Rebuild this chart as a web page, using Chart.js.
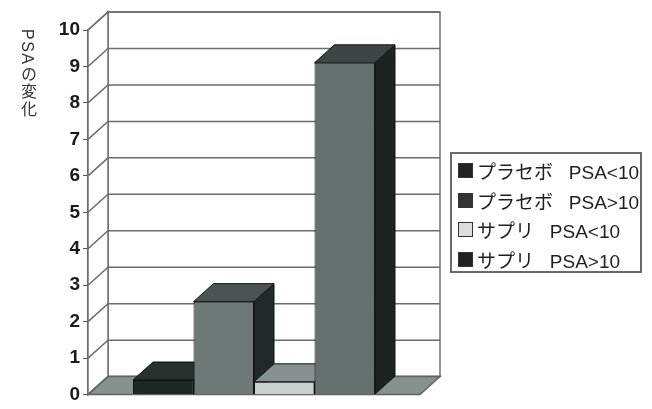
<!DOCTYPE html>
<html>
<head>
<meta charset="utf-8">
<script src="https://cdn.jsdelivr.net/npm/chart.js@4/dist/chart.umd.min.js"></script>
<style>
  html, body { margin: 0; padding: 0; background: #fff; }
  #wrap { position: relative; width: 652px; height: 409px; }
  #ytitle {
    position: absolute; left: 15px; top: 29px;
    writing-mode: vertical-rl; letter-spacing: 1.5px;
    font: 16px "Liberation Sans", "Noto Sans CJK JP", sans-serif; color: #333;
  }
  #legend {
    position: absolute; left: 450px; top: 152px; width: 192px; height: 121px;
    box-sizing: border-box; border: 2px solid #6a6a6a; padding: 2px 0 0 6px;
    font: 19px "Liberation Sans", "Noto Sans CJK JP", sans-serif; color: #1e1e1e;
  }
  #legend div { height: 29.5px; display: flex; align-items: center; white-space: pre; }
  #legend span.box { width: 15px; height: 15px; margin-right: 4px; box-sizing: border-box; flex: none; }
</style>
</head>
<body>
<div id="wrap">
  <canvas id="chart" width="652" height="409"></canvas>
  <div id="ytitle">PSAの変化</div>
  <div id="legend"></div>
</div>
<script>
// ── Data
const categories = [''];
const seriesLabels = ['プラセボ   PSA<10', 'プラセボ   PSA>10', 'サプリ   PSA<10', 'サプリ   PSA>10'];
const placeboLow  = [0.4];
const placeboHigh = [2.55];
const suppLow     = [0.35];
const suppHigh    = [9.1];
const yMin = 0, yMax = 10, yStep = 1;

// ── Styles
const frontColors  = ['#1d2725', '#6e7876', '#c9cfcd', '#66706e'];
const topColors    = ['#27322f', '#4a5452', '#879190', '#3c4644'];
const sideColors   = ['#141b1a', '#222a29', '#707a78', '#1c2422'];
const legendColors = ['#222', '#333', '#ddd', '#222'];
const DX = 20, DY = -18;

// 3D box: back wall, left wall, floor, gridlines, bar tops and sides
const box3d = {
  id: 'box3d',
  beforeDatasetsDraw(chart) {
    const { ctx, chartArea: a, scales: { y } } = chart;
    const quad = (pts, fill, stroke) => {
      ctx.beginPath();
      ctx.moveTo(pts[0][0], pts[0][1]);
      pts.slice(1).forEach(p => ctx.lineTo(p[0], p[1]));
      ctx.closePath();
      if (fill) { ctx.fillStyle = fill; ctx.fill(); }
      if (stroke) { ctx.strokeStyle = stroke; ctx.stroke(); }
    };
    ctx.save();
    ctx.lineWidth = 1.5;
    // back wall + left wall
    quad([[a.left + DX, a.top + DY], [a.right + DX, a.top + DY], [a.right + DX, a.bottom + DY], [a.left + DX, a.bottom + DY]], '#fff', '#707070');
    quad([[a.left, a.top], [a.left + DX, a.top + DY], [a.left + DX, a.bottom + DY], [a.left, a.bottom]], '#fff', '#707070');
    // gridlines on walls
    ctx.strokeStyle = '#6c6c6c';
    y.ticks.forEach(t => {
      const py = y.getPixelForValue(t.value);
      ctx.beginPath();
      ctx.moveTo(a.left, py);
      ctx.lineTo(a.left + DX, py + DY);
      ctx.lineTo(a.right + DX, py + DY);
      ctx.stroke();
    });
    // floor
    quad([[a.left, a.bottom], [a.right, a.bottom], [a.right + DX, a.bottom + DY], [a.left + DX, a.bottom + DY]], '#879190', '#5d6664');
    // bar sides and tops, left to right
    ctx.lineWidth = 1;
    chart.data.datasets.forEach((ds, i) => {
      chart.getDatasetMeta(i).data.forEach(bar => {
        const { x, y: top, width, base } = bar.getProps(['x', 'y', 'width', 'base'], true);
        const l = x - width / 2, r = x + width / 2;
        quad([[r, top], [r + DX, top + DY], [r + DX, base + DY], [r, base]], sideColors[i], '#111');
        quad([[l, top], [r, top], [r + DX, top + DY], [l + DX, top + DY]], topColors[i], '#111');
      });
    });
    ctx.restore();
  }
};

const seriesData = [placeboLow, placeboHigh, suppLow, suppHigh];

new Chart(document.getElementById('chart'), {
  type: 'bar',
  data: {
    labels: categories,
    datasets: seriesData.map((d, i) => ({
      label: seriesLabels[i],
      data: d,
      backgroundColor: frontColors[i],
      borderColor: '#111',
      borderWidth: 1,
      categoryPercentage: 0.729,
      barPercentage: 1,
    }))
  },
  options: {
    responsive: false,
    animation: false,
    layout: { padding: { left: 0, top: 30, right: 232, bottom: 11 } },
    plugins: { legend: { display: false }, tooltip: { enabled: false } },
    scales: {
      x: { display: false },
      y: {
        min: yMin, max: yMax,
        afterFit: s => { s.width = 88; },
        ticks: { stepSize: yStep, color: '#1a1a1a', padding: 3,
                 font: { family: '"Liberation Sans Narrow", "Liberation Sans", Arial', size: 19, weight: 'bold' } },
        grid: { drawOnChartArea: false, drawTicks: true, tickLength: 5, color: '#555' },
        border: { display: true, color: '#555', width: 1.5 }
      }
    }
  },
  plugins: [box3d]
});

// ── Legend
document.getElementById('legend').innerHTML = seriesLabels.map((l, i) =>
  `<div><span class="box" style="background:${legendColors[i]};border:1px solid #333"></span>${l}</div>`
).join('');
</script>
</body>
</html>
